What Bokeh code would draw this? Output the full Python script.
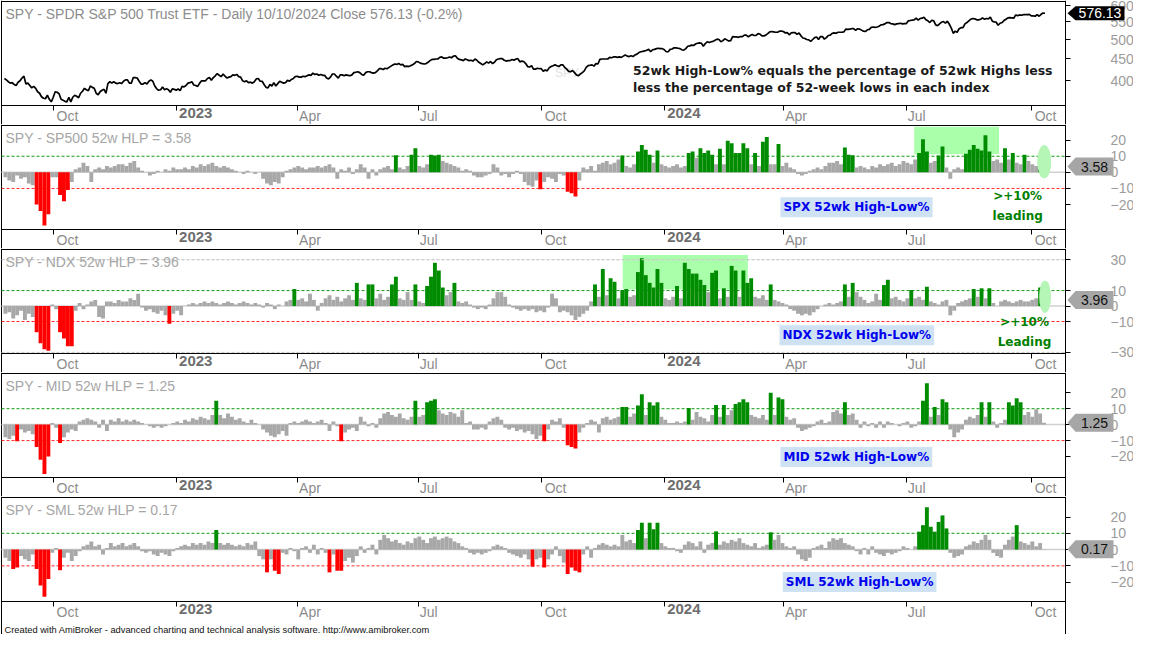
import numpy as np
from bokeh.plotting import figure
from bokeh.layouts import column
from bokeh.models import (Range1d, FixedTicker, BoxAnnotation, Label,
                          PolyAnnotation, PrintfTickFormatter)
from bokeh.embed import file_html
from bokeh.resources import INLINE

# ------------------------------------------------------------------ data
# trading-day calendar: month names / years / trading days per month
month_names = ["Aug", "Sep", "Oct", "Nov", "Dec",
               "Jan", "Feb", "Mar", "Apr", "May", "Jun", "Jul", "Aug", "Sep", "Oct", "Nov", "Dec",
               "Jan", "Feb", "Mar", "Apr", "May", "Jun", "Jul", "Aug", "Sep", "Oct"]
month_years = [2022] * 5 + [2023] * 12 + [2024] * 10
month_days = [4, 21, 21, 21, 21, 20, 19, 23, 19, 22, 21, 20, 23, 20, 22, 21, 20,
              21, 20, 20, 22, 22, 19, 22, 22, 20, 8]

# SPY daily close (26 Aug 2022 .. 10 Oct 2024)
spy_close = [
    405, 402, 398, 395,
    396, 392, 390, 397, 400, 406, 410, 393, 395, 390, 385, 388, 384, 377, 374, 367, 364, 363, 370, 362, 357,
    366, 377, 376, 373, 362, 360, 358, 357, 366, 357, 366, 370, 368, 365, 374, 378, 384, 381, 379, 389, 386,
    384, 374, 371, 377, 380, 382, 374, 394, 398, 395, 398, 395, 394, 396, 394, 399, 402, 402, 395, 395, 407,
    407, 406, 399, 393, 393, 396, 393, 399, 402, 399, 389, 383, 380, 381, 387, 381, 383, 381, 376, 383, 382,
    380, 383, 379, 388, 387, 390, 395, 396, 398, 391, 390, 388, 395, 400, 400, 400, 405, 407, 401, 407,
    411, 416, 412, 409, 415, 410, 406, 408, 409, 413, 412, 414, 409, 408, 400, 398, 400, 396, 397,
    395, 398, 404, 405, 399, 399, 392, 386, 385, 392, 389, 396, 389, 394, 399, 397, 395, 396, 401, 399, 403, 405, 409,
    410, 408, 408, 410, 409, 411, 413, 412, 417, 414, 415, 412, 414, 412, 412, 406, 404, 408, 415,
    415, 410, 406, 413, 413, 411, 413, 412, 411, 413, 418, 419, 420, 418, 414, 412, 418, 420, 420, 418, 417, 418,
    422, 427, 427, 425, 428, 427, 430, 433, 436, 438, 437, 439, 436, 437, 432, 433, 432, 434, 436, 439, 444,
    443, 440, 439, 438, 439, 442, 446, 449, 449, 450, 450, 454, 455, 452, 452, 453, 455, 453, 457, 458,
    452, 449, 448, 446, 450, 448, 446, 447, 445, 450, 447, 442, 439, 436, 439, 443, 440, 444, 439, 442, 448, 450, 451,
    451, 447, 445, 446, 446, 449, 447, 450, 451, 443, 445, 444, 439, 432, 431, 434, 426, 426, 428, 427,
    427, 421, 424, 422, 429, 432, 434, 436, 434, 432, 436, 436, 430, 426, 421, 420, 423, 418, 413, 411, 415, 418,
    422, 430, 434, 435, 436, 433, 439, 438, 449, 450, 450, 450, 450, 454, 453, 455, 455, 454, 455, 454, 457,
    460, 457, 456, 458, 456, 460, 462, 466, 468, 469, 470, 472, 474, 468, 473, 474, 476, 477, 476, 476,
    473, 468, 468, 474, 475, 478, 478, 477, 476, 473, 472, 476, 482, 483, 485, 484, 488, 490, 491, 490, 482,
    489, 494, 492, 494, 495, 498, 501, 500, 494, 497, 502, 499, 496, 497, 508, 507, 507, 506, 508, 508,
    512, 512, 507, 511, 514, 511, 511, 516, 515, 510, 510, 512, 516, 521, 522, 521, 520, 520, 523, 523,
    522, 518, 519, 513, 518, 519, 519, 514, 518, 510, 504, 503, 500, 499, 495, 500, 505, 507, 500, 508, 508, 501,
    505, 511, 512, 517, 518, 517, 520, 520, 520, 521, 529, 528, 529, 530, 530, 525, 530, 529, 526, 523, 522, 527,
    528, 534, 535, 534, 535, 537, 541, 542, 544, 548, 548, 545, 544, 542, 544, 545, 546, 544, 545,
    545, 553, 554, 555, 556, 561, 555, 560, 561, 564, 556, 553, 548, 555, 553, 541, 539, 544, 549, 551, 546, 552,
    543, 532, 517, 523, 520, 530, 533, 533, 544, 548, 553, 558, 560, 559, 556, 556, 558, 562, 558, 560, 559, 564,
    552, 550, 549, 540, 546, 548, 554, 558, 562, 563, 562, 561, 571, 569, 571, 570, 572, 572, 572, 573,
    568, 568, 567, 572, 567, 573, 577, 576.13,
]

# 52-week High-Low% (one value per two trading days)
sp500_hlp = [
    -3, -5, -6, -2, -4, -3, -7, -8, -20, -24,
    -33, -26, -3, -3, -14, -18, -11, -6, 2, 3,
    6, 4, -6, 2, 3, 2, 4, 3, 4, 5,
    5, 4, 6, 7, 3, 1, 0, -2, -1, 1,
    0, 2, 1, 3, 2, 2, 3, 2, 4, 3,
    5, 4, 5, 6, 4, 3, 4, 3, 2, 1,
    0, -1, 1, 0, -1, 0, -4, -7, -8, -6,
    -7, -3, 1, 2, 3, 4, 3, 2, 3, 3,
    4, 3, 4, 5, 3, -4, 2, 1, 3, -1,
    2, 5, 3, -4, 2, -2, 2, 3, 4, 2,
    10.6, 3, 2, 4, 11, 15, 4, 3, 5, 11,
    10.5, 11, 7, 6, 5, 4, 3, 1, 2, 1,
    -2, -3, -3, -2, -1, 5, 3, -2, -1, -3,
    -1, 1, -1, -6, -8, -9, -5, -10.5, -6, -3,
    -4, -6, -1, -2, -12, -13, -15, -5, 3, 2,
    4, 1, 5, 6, 7, 5, 6, 8, 10.5, 4,
    3, 5, 13, 17, 14, 11, 6, 13.6, 5, 4,
    3, 4, 5, 3, 4, 12, 13, 9, 15, 12,
    13.5, 11, 5, 14.6, 5, 19.6, 18, 12, 12, 18,
    15, 5, 12, 4, 19, 22, 5, 5, 17.6, 4,
    6, 3, 2, -1, -2, -1, 1, 2, 3, 2,
    4, 6, 6, 7, 5, 15.5, 11, 10.6, 3, 4,
    3, 2, 4, 3, 5, 4, 5, 6, 4, 5,
    7, 6, 5, 8, 12, 20.6, 13, 6, 7, 10.5,
    16, 3, -4, 2, 3, 2, 11.6, 14, 17, 14.6,
    13.6, 23, 13, 7, 8, 6, 15, 8, 12, 6,
    5, 11, 7, 5, 4, 10.6, 3.58,
]

ndx_hlp = [
    -5, -4, -8, -6, -3, -9, -5, -7, -17, -24,
    -28, -29, 1, -2, -17, -21, -26, -26, -3, 2,
    -2, 1, 3, 4, -7, -8, 3, 3, 2, 4,
    3, 3, 5, 4, 8, -1, -3, -2, -4, -5,
    -3, -6, -11.5, -5, -3, -6, 0, 1, 2, 1,
    2, 3, 2, 3, 2, 1, 2, 3, 2, 1,
    2, 3, 2, 1, 2, 1, -1, 2, 1, -2,
    1, 0, 3, 4, 11, 4, 5, 3, 8, 4,
    -3, 2, 5, 7, 4, 6, 3, 5, 7, 4,
    15, 5, 4, 14, 14, 5, 8, 4, 6, 14,
    19, 5, 4, 9, 4, 14, 3, 2, 13, 19,
    28, 23, 12, 7, 9, 15, 3, 2, 3, 1,
    -1, -2, -1, -2, 1, 5, 9, 9, 6, 1,
    -1, -2, -3, -2, -3, -2, -4, -3, -4, -1,
    8, 5, -4, -3, -4, -6, -9, -7, -5, -3,
    3, 14, 6, 24, 7, 18, 15.7, 5, 10.4, 11,
    6, 7, 22, 31, 20, 15, 12, 24, 15, 5,
    4, 6, 13, 5, 28, 24, 21, 21, 17, 13.6,
    9, 21.5, 23, 5, 11.5, 6, 26, 23, 6, 23,
    15, 18, 6, 5, 7, 4, 14, 4, 3, 2,
    1, -2, -3, -5, -6, -5, -6, -4, -2, 0,
    1, 2, 1, 2, 3, 14, 6, 15, 9, 6,
    4, 2, 3, 8, 4, 13.6, 17, 5, 6, 4,
    3, 5, 10.4, 5, 6, 4, 12.5, 3, 2, 1,
    3, 4, -6, -3, 2, 3, 4, 5, 11, 6,
    11.5, 5, 11.5, 2, 0, 3, 4, 3, 2, 3,
    4, 3, 3, 4, 5, 12, 3.96,
]

mid_hlp = [
    -8, -9, -7, -10.5, -3, -5, -4, -6, -14, -22,
    -31, -20, 1, -2, -11.5, -8, -5, -3, -4, 2,
    3, 4, 3, 2, -2, 3, -4, 3, 2, 4,
    2, 3, 2, 3, 2, 1, 0, -1, -2, -1,
    -2, -1, 0, 1, 2, 1, 3, 2, 4, 3,
    5, 4, 3, 6, 15, 6, 4, 7, 5, 3,
    4, 2, 1, 3, 1, 0, -3, -5, -7, -8,
    -6, -4, -7, 1, 2, 1, 2, 3, 2, 1,
    2, 3, 1, -4, 2, -1, -10.5, -5, -3, -2,
    -4, 5, 2, -1, 1, -2, 4, 7, 8, 6,
    5, 7, 4, 3, 5, 15, 5, 6, 14, 15,
    16, 9, 7, 6, 8, 7, 5, 9, 1, 2,
    -3, -3, -2, -3, 2, 4, 5, 3, -2, -3,
    -2, -4, -3, -5, -4, -6, -9, -7, -10.5, -3,
    3, 2, 4, -2, -13, -14, -15, -5, -2, 1,
    3, 2, -5, 4, 5, 3, 4, 5, 11, 11,
    5, 7, 12, 19, 6, 14, 12, 14, 5, 3,
    1, 1, 2, 1, 2, 10.4, 3, 8, 5, 4,
    2, 6, 12.4, 5, 12.4, 6, 9, 13, 14, 16,
    14, 6, 5, 4, 6, 3, 20, 6, 17, 16,
    5, 3, 4, -2, -4, -3, -2, -1, 2, 3,
    1, 2, 8, 9, 7, 14, 6, 7, 3, -2,
    2, -1, 1, -2, 2, -2, 2, 1, 0, -1,
    1, 2, -2, -1, 2, 15, 26, 5, 11, 6,
    16, 14, -3, -8, -5, -3, 3, 5, 4, 6,
    14, 5, 14, 2, -2, 1, 3, 14, 12, 16.5,
    14, 6, 8, 5, 9.6, 7, 1.25,
]

sml_hlp = [
    -5, -7, -12, -11, -4, -6, -7, -3, -12, -22,
    -29, -18, -2, 1, -12.7, -5, -2, -7, -4, -1,
    2, 3, 5, 2, 3, -3, 1, 4, 2, 3,
    4, 2, 3, 4, 2, -1, -2, -1, -3, -4,
    -2, -3, -4, -1, 1, 2, 3, 2, 4, 3,
    4, 3, 5, 4, 12, 4, 3, 4, 3, 2,
    3, 2, 4, 3, 5, -4, -6, -14, -6, -13,
    -15, -2, -3, 1, -1, -6, 1, 2, -2, 3,
    -3, 1, -2, -14, -3, -13, -13, -7, -5, -8,
    -4, 2, -2, 1, 3, -3, 6, 9, 7, 5,
    6, 4, 3, 5, 4, 7, 8, 6, 4, 7,
    8, 6, 7, 8, 7, 5, 4, 2, 1, -2,
    -3, -2, -3, -2, -1, 2, 3, 2, 1, -2,
    -3, -4, -5, -3, -6, -10.5, -6, -5, -11, -6,
    -3, 2, -4, -8, -15, -11, -13, -14, -3, 2,
    -5, 1, 3, 4, 3, 2, 3, 2, 9, 5,
    6, 4, 12, 16.5, 7, 16.5, 12.5, 16.5, 4, 2,
    1, 1, -1, -2, 3, 5, 4, 2, 5, -2,
    3, 4, 11.2, 3, 5, 4, 6, 5, 7, 4,
    3, 2, 4, 1, 2, 3, 10.6, 6, 9, 4,
    2, 1, 2, -3, -6, -7, -5, 1, 2, 3,
    1, 5, 7, 6, 7, 4, 3, 2, -1, -3,
    1, -3, 2, -2, -3, -4, -2, -3, -2, -1,
    2, 1, 0, 2, 11, 15, 26, 14, 11, 17,
    21, 13, -2, -5, -4, -3, 2, 3, 5, 4,
    6, 9, 6, -2, -4, -5, 3, 6, 8, 15,
    5, 4, 3, 5, 2, 4, 0.17,
]

price_ticks = [400, 450, 500, 550, 600]
hlp_ticks = [20, 10, 0, -10, -20]
ndx_ticks = [30, 10, 0, -10, -30]

# ------------------------------------------------------------------ layout / style
W = 1133
RIGHT = 68          # px right of the plot box (value axis)
AXIS_H = 19         # px of the date band under each plot box
PANEL_H = 124
FH = PANEL_H - AXIS_H - 1   # plot box height in px
XMIN, XMAX = -1.5, 543.5
FRAME_W = W - 1 - RIGHT
PPI = FRAME_W / (XMAX - XMIN)   # px per trading day

GRAY, GREEN, RED = "#a8a8a8", "#008c00", "#ff0000"
AX_FONT = "Liberation Sans"
NOTE_FONT = "DejaVu Sans"

starts = np.concatenate([[0], np.cumsum(month_days)[:-1]])
label_shift = {"Oct": 7.3, "Apr": 6.5, "Jul": 5.3, "Jan": 10.0}
tick_pos, label_pos, overrides, year_labels = [], [], {}, []
for name, yr, s in zip(month_names, month_years, starts):
    if name in label_shift and s > 0:
        tick_pos.append(float(s))
        pos = round(float(s) + label_shift[name], 2)
        label_pos.append(pos)
        if name == "Jan":
            overrides[pos] = ""
            year_labels.append((pos, str(yr)))
        else:
            overrides[pos] = name


def make_panel(ymin, ymax, yticks, log=False, extra=0):
    H = PANEL_H + extra
    below = H - 1 - FH
    if log:
        k = np.log(ymax / ymin) / FH
        yr = Range1d(ymin * np.exp(-below * k), ymax * np.exp(k))
        def shift(v, px):
            return v * np.exp(px * k)
    else:
        u = (ymax - ymin) / FH
        yr = Range1d(ymin - below * u, ymax + u)
        def shift(v, px):
            return v + px * u
    xr = Range1d(XMIN - 1 / PPI, XMAX + (W - 1 - FRAME_W) / PPI)
    p = figure(width=W, height=H, x_range=xr, y_range=yr,
               y_axis_type="log" if log else "linear", y_axis_location="right",
               output_backend="svg", toolbar_location=None, min_border=0)
    p.xgrid.visible = False
    p.ygrid.visible = False
    p.outline_line_color = None
    p.background_fill_color = "white"
    p.border_fill_color = "white"

    xa = p.xaxis[0]
    xa.fixed_location = ymin
    xa.ticker = FixedTicker(ticks=label_pos, minor_ticks=tick_pos)
    xa.major_label_overrides = overrides
    xa.major_tick_out = 0
    xa.major_tick_in = 0
    xa.minor_tick_out = 5
    xa.minor_tick_in = 0
    xa.minor_tick_line_color = "black"
    xa.axis_line_color = None
    xa.major_label_standoff = -3
    xa.major_label_text_font = AX_FONT
    xa.major_label_text_font_size = "14px"
    xa.major_label_text_color = "#8c8c8c"

    ya = p.yaxis[0]
    ya.fixed_location = XMAX
    ya.ticker = FixedTicker(ticks=yticks)
    if log:
        ya.formatter = PrintfTickFormatter(format="%d")
    ya.major_tick_out = 5
    ya.major_tick_in = 0
    ya.minor_tick_line_color = None
    ya.axis_line_color = "black"
    ya.major_label_standoff = 40
    ya.major_label_text_font = AX_FONT
    ya.major_label_text_font_size = "14px"
    ya.major_label_text_color = "#9c9c9c"

    # plot-box border: left (full height), top and bottom
    p.segment(x0=[XMIN, XMIN, XMIN], y0=[yr.start, ymax, ymin],
              x1=[XMIN, XMAX, XMAX], y1=[yr.end, ymax, ymin],
              line_color="black", line_width=1)

    for x, t in year_labels:
        p.add_layout(Label(x=x, y=ymin, y_offset=-2, text=t, text_align="center",
                           text_baseline="top", text_font=AX_FONT, text_font_style="bold",
                           text_font_size="15px", text_color="#6e6e6e"))
    return p, shift


def add_title(p, text, ymax, color):
    p.add_layout(Label(x=XMIN, x_offset=4, y=ymax, y_offset=-4, text=text,
                       text_baseline="top", text_align="left", text_font=AX_FONT,
                       text_font_size="14px", text_color=color))


def add_tag(p, shift, v, half_px, fill, tcolor, text, right_px):
    x_tip = XMAX + 2 / PPI
    x_body = XMAX + 10 / PPI
    x_end = XMAX + right_px / PPI
    hi, lo = shift(v, half_px), shift(v, -half_px)
    p.add_layout(PolyAnnotation(xs=[x_tip, x_body, x_end, x_end, x_body],
                                ys=[v, hi, hi, lo, lo], fill_color=fill, fill_alpha=1.0,
                                line_color=None, level="overlay"))
    p.add_layout(Label(x=(x_body + x_end) / 2, y=v, text=text, text_align="center",
                       text_baseline="middle", text_font=AX_FONT, text_font_size="14px",
                       text_color=tcolor, level="overlay"))


def bar_panel(vals, ymin, ymax, yticks, title, extra=0):
    p, shift = make_panel(ymin, ymax, yticks, extra=extra)
    p.segment(x0=[XMIN], x1=[XMAX], y0=[0], y1=[0], line_color="#d0d0d0", line_width=1.5)
    p.segment(x0=[XMIN], x1=[XMAX], y0=[10], y1=[10], line_color="#109a10",
              line_width=1, line_dash="3 2")
    p.segment(x0=[XMIN], x1=[XMAX], y0=[-10], y1=[-10], line_color="#ff2a2a",
              line_width=1, line_dash="3 2")
    xs = [2 * k + 0.5 for k in range(len(vals))]
    colors = [GREEN if v > 10 else (RED if v < -10 else GRAY) for v in vals]
    p.vbar(x=xs, top=vals, bottom=0, width=2, fill_color=colors, line_color=None)
    add_title(p, title, ymax, "#a6a6a6")
    add_tag(p, shift, vals[-1], 9, "#a6a6a6", "#111111", f"{vals[-1]:.2f}", 48)
    return p


def note_label(p, x, y, text):
    p.add_layout(Label(x=x, y=y, text=text, text_align="left", text_baseline="middle",
                       text_font=NOTE_FONT, text_font_style="bold", text_font_size="12px",
                       text_color="#0000ee", background_fill_color="#cfe2f3", padding=3))


def lead_label(p, x, y, text):
    p.add_layout(Label(x=x, y=y, text=text, text_align="center", text_baseline="middle",
                       text_font=NOTE_FONT, text_font_style="bold", text_font_size="12px",
                       text_color="#008000", text_line_height=1.45))


# ---------------- top: SPY price
P_MIN, P_MAX = 350, 614
top, top_shift = make_panel(P_MIN, P_MAX, price_ticks, log=True)
top.add_layout(Label(x=282, y=418, text="SPY", text_font=AX_FONT, text_font_size="12px",
                     text_color="#e2e2e2", text_baseline="middle", level="underlay"))
top.line(x=np.arange(len(spy_close)), y=spy_close, line_color="black", line_width=1.7)
add_title(top, "SPY - SPDR S&P 500 Trust ETF - Daily 10/10/2024 Close 576.13 (-0.2%)", P_MAX, "#8c8c8c")
for yv, txt in [(422.7, "52wk High-Low% equals the percentage of 52wk Highs less"),
                (386.5, "less the percentage of 52-week lows in each index")]:
    top.add_layout(Label(x=322, y=yv, text=txt, text_align="left", text_baseline="middle",
                         text_font=NOTE_FONT, text_font_style="bold", text_font_size="12.5px",
                         text_color="#1a1a1a"))
add_tag(top, top_shift, spy_close[-1], 7, "black", "white", f"{spy_close[-1]:.2f}", 59)

# ---------------- SP500
sp = bar_panel(sp500_hlp, -35.5, 29.1, hlp_ticks, "SPY - SP500 52w HLP = 3.58")
sp.add_layout(BoxAnnotation(left=466, right=509.5, bottom=11.2, top=28.3,
                            fill_color="#aaffaa", fill_alpha=1.0, line_color=None, level="underlay"))
sp.renderers.insert(0, sp.ellipse(x=[532.6], y=[6.6], width=7, height=20.5,
                                  fill_color="#b5f5b5", line_color=None))
note_label(sp, 397.5, -21.7, "SPX 52wk High-Low%")
lead_label(sp, 519, -21.1, ">+10%\nleading")

# ---------------- NDX
nd = bar_panel(ndx_hlp, -30.7, 36.6, ndx_ticks, "SPY - NDX 52w HLP = 3.96")
nd.renderers.insert(0, nd.segment(x0=[XMIN, XMIN], x1=[XMAX, XMAX], y0=[30, -30], y1=[30, -30],
                                  line_color="#cccccc", line_width=1, line_dash="3 2"))
nd.add_layout(BoxAnnotation(left=316.7, right=380.8, bottom=10.7, top=33,
                            fill_color="#aaffaa", fill_alpha=1.0, line_color=None, level="underlay"))
nd.renderers.insert(0, nd.ellipse(x=[533], y=[6], width=6, height=20.6,
                                  fill_color="#b5f5b5", line_color=None))
note_label(nd, 397, -18.9, "NDX 52wk High-Low%")
lead_label(nd, 522.5, -16.8, ">+10%\nLeading")

# ---------------- MID
md = bar_panel(mid_hlp, -33.2, 32.1, hlp_ticks, "SPY - MID 52w HLP = 1.25")
note_label(md, 397.5, -20.4, "MID 52wk High-Low%")

# ---------------- SML
SML_MIN = -31.9
sm = bar_panel(sml_hlp, SML_MIN, 32.0, hlp_ticks, "SPY - SML 52w HLP = 0.17", extra=14)
note_label(sm, 398.7, -19.9, "SML 52wk High-Low%")
sm.add_layout(Label(x=XMIN, x_offset=3, y=SML_MIN, y_offset=-(AXIS_H + 4),
                    text="Created with AmiBroker - advanced charting and technical analysis software. http://www.amibroker.com",
                    text_baseline="top", text_align="left", text_font=AX_FONT,
                    text_font_size="9.3px", text_color="#111111"))

layout = column(top, sp, nd, md, sm, spacing=0)
open("out.html", "w").write(file_html(layout, INLINE))
